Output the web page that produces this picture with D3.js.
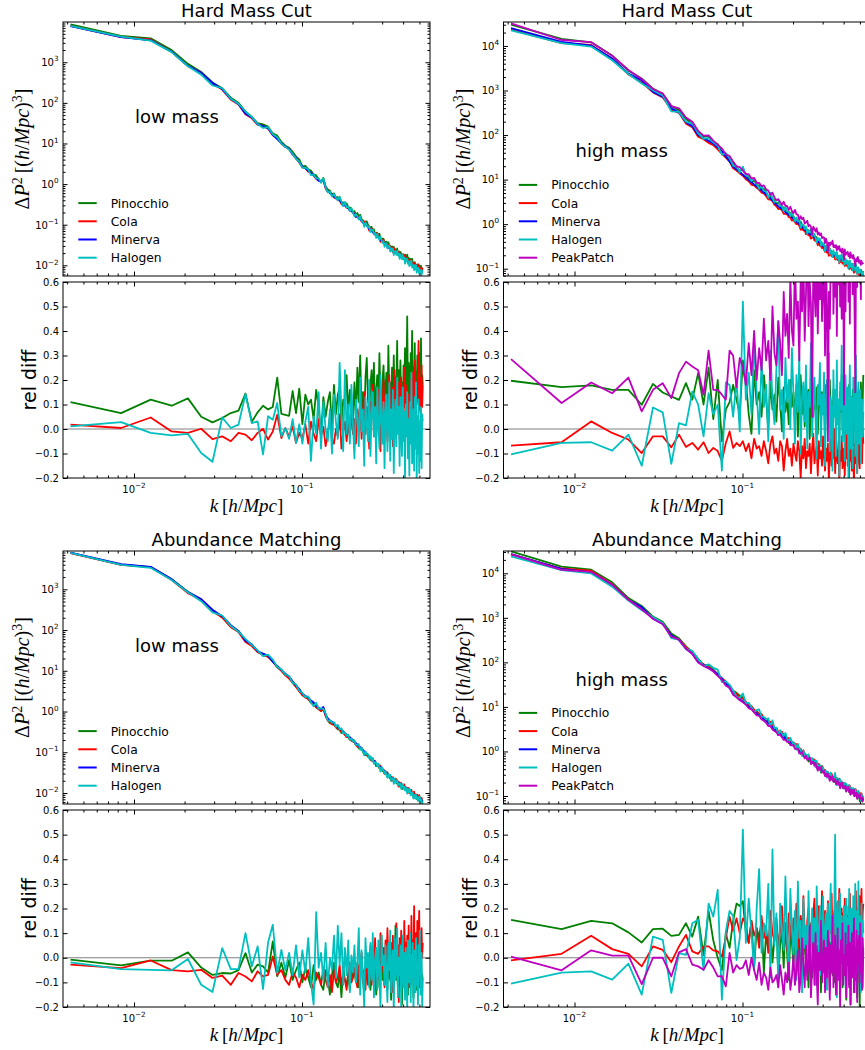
<!DOCTYPE html>
<html>
<head>
<meta charset="utf-8">
<script src="https://cdn.jsdelivr.net/npm/d3@7"></script>
<style>
  body { margin: 0; background: #fff; }
  svg { display: block; }
  text { font-family: "DejaVu Sans", sans-serif; fill: #000; }
</style>
</head>
<body>
<svg id="fig" width="865" height="1050"></svg>
<script>
// Wavenumber bins k [h/Mpc] (multiples of the fundamental mode of the box)
const kValues = [
  0.00419, 0.00838, 0.01257, 0.01676, 0.02094, 0.02513, 0.02932, 0.03351, 0.03770, 0.04189,
  0.04608, 0.05027, 0.05445, 0.05864, 0.06283, 0.06702, 0.07121, 0.07540, 0.07959, 0.08378,
  0.08796, 0.09215, 0.09634, 0.10053, 0.10472, 0.10891, 0.11310, 0.11729, 0.12147, 0.12566,
  0.12985, 0.13404, 0.13823, 0.14242, 0.14661, 0.15080, 0.15499, 0.15917, 0.16336, 0.16755,
  0.17174, 0.17593, 0.18012, 0.18431, 0.18850, 0.19268, 0.19687, 0.20106, 0.20525, 0.20944,
  0.21363, 0.21782, 0.22201, 0.22620, 0.23038, 0.23457, 0.23876, 0.24295, 0.24714, 0.25133,
  0.25552, 0.25971, 0.26389, 0.26808, 0.27227, 0.27646, 0.28065, 0.28484, 0.28903, 0.29322,
  0.29740, 0.30159, 0.30578, 0.30997, 0.31416, 0.31835, 0.32254, 0.32673, 0.33091, 0.33510,
  0.33929, 0.34348, 0.34767, 0.35186, 0.35605, 0.36024, 0.36442, 0.36861, 0.37280, 0.37699,
  0.38118, 0.38537, 0.38956, 0.39375, 0.39793, 0.40212, 0.40631, 0.41050, 0.41469, 0.41888,
  0.42307, 0.42726, 0.43145, 0.43563, 0.43982, 0.44401, 0.44820, 0.45239, 0.45658, 0.46077,
  0.46496, 0.46914, 0.47333, 0.47752, 0.48171, 0.48590, 0.49009, 0.49428, 0.49847, 0.50265,
  0.50684, 0.51103, 0.51522, 0.51941, 0.52360
];

// Minerva (reference) variance, stored as log10 of ΔP² [(h/Mpc)^3]
const minervaHardLow = [
  3.89, 3.62, 3.54, 3.26, 2.91, 2.74, 2.49, 2.34, 2.10, 1.97,
  1.73, 1.64, 1.47, 1.43, 1.38, 1.21, 1.11, 1.01, 0.92, 0.87,
  0.73, 0.65, 0.54, 0.43, 0.39, 0.33, 0.28, 0.22, 0.15, 0.08,
  0.07, 0.10, -0.08, -0.18, -0.22, -0.26, -0.30, -0.35, -0.38, -0.41,
  -0.46, -0.50, -0.53, -0.56, -0.60, -0.64, -0.66, -0.70, -0.74, -0.79,
  -0.81, -0.84, -0.87, -0.90, -0.95, -0.98, -1.00, -1.03, -1.05, -1.11,
  -1.13, -1.15, -1.18, -1.22, -1.24, -1.26, -1.29, -1.31, -1.34, -1.38,
  -1.40, -1.42, -1.45, -1.47, -1.49, -1.51, -1.54, -1.56, -1.58, -1.60,
  -1.61, -1.63, -1.65, -1.66, -1.68, -1.70, -1.71, -1.72, -1.74, -1.75,
  -1.77, -1.78, -1.79, -1.80, -1.81, -1.83, -1.84, -1.86, -1.87, -1.89,
  -1.90, -1.91, -1.92, -1.93, -1.95, -1.96, -1.98, -1.99, -2.01, -2.03,
  -2.04, -2.05, -2.06, -2.07, -2.08, -2.09, -2.10, -2.11, -2.12, -2.13,
  -2.14, -2.15, -2.16, -2.16, -2.17
];
const minervaHardHigh = [
  4.40, 4.09, 4.01, 3.72, 3.38, 3.23, 2.97, 2.86, 2.60, 2.51,
  2.29, 2.20, 2.00, 1.93, 1.87, 1.81, 1.72, 1.64, 1.52, 1.41,
  1.29, 1.23, 1.17, 1.11, 1.05, 0.99, 0.94, 0.89, 0.85, 0.80,
  0.76, 0.71, 0.67, 0.62, 0.58, 0.53, 0.48, 0.44, 0.40, 0.37,
  0.34, 0.31, 0.27, 0.24, 0.21, 0.18, 0.15, 0.12, 0.09, 0.06,
  0.03, 0.00, -0.03, -0.06, -0.09, -0.12, -0.15, -0.18, -0.20, -0.22,
  -0.24, -0.26, -0.28, -0.30, -0.33, -0.36, -0.38, -0.40, -0.43, -0.45,
  -0.47, -0.49, -0.52, -0.54, -0.56, -0.58, -0.60, -0.61, -0.63, -0.64,
  -0.65, -0.66, -0.68, -0.69, -0.71, -0.72, -0.73, -0.74, -0.76, -0.77,
  -0.78, -0.79, -0.80, -0.81, -0.83, -0.84, -0.85, -0.86, -0.87, -0.88,
  -0.89, -0.90, -0.91, -0.92, -0.93, -0.94, -0.95, -0.96, -0.97, -0.98,
  -0.99, -1.00, -1.01, -1.02, -1.03, -1.04, -1.05, -1.07, -1.08, -1.09,
  -1.10, -1.11, -1.12, -1.13, -1.14
];
const minervaAbundLow = [
  3.90, 3.62, 3.55, 3.25, 2.93, 2.76, 2.50, 2.34, 2.12, 1.98,
  1.74, 1.65, 1.48, 1.42, 1.37, 1.22, 1.12, 1.02, 0.93, 0.86,
  0.74, 0.64, 0.55, 0.44, 0.38, 0.34, 0.27, 0.22, 0.14, 0.09,
  0.06, 0.11, -0.07, -0.17, -0.22, -0.25, -0.30, -0.34, -0.38, -0.42,
  -0.45, -0.49, -0.53, -0.57, -0.60, -0.63, -0.67, -0.70, -0.73, -0.78,
  -0.81, -0.85, -0.87, -0.90, -0.94, -0.98, -1.01, -1.03, -1.06, -1.10,
  -1.13, -1.16, -1.18, -1.21, -1.24, -1.27, -1.29, -1.31, -1.34, -1.37,
  -1.40, -1.42, -1.44, -1.47, -1.49, -1.52, -1.54, -1.56, -1.58, -1.60,
  -1.62, -1.63, -1.65, -1.67, -1.68, -1.70, -1.72, -1.73, -1.74, -1.76,
  -1.77, -1.79, -1.80, -1.81, -1.82, -1.84, -1.85, -1.86, -1.88, -1.89,
  -1.91, -1.92, -1.93, -1.95, -1.96, -1.97, -1.99, -2.00, -2.02, -2.03,
  -2.05, -2.06, -2.07, -2.08, -2.09, -2.10, -2.11, -2.12, -2.13, -2.14,
  -2.15, -2.16, -2.17, -2.18, -2.19
];
const minervaAbundHigh = [
  4.43, 4.10, 4.02, 3.74, 3.40, 3.24, 2.98, 2.86, 2.61, 2.50,
  2.30, 2.20, 2.01, 1.94, 1.87, 1.81, 1.73, 1.64, 1.53, 1.42,
  1.30, 1.23, 1.17, 1.12, 1.06, 1.00, 0.95, 0.90, 0.85, 0.81,
  0.77, 0.72, 0.68, 0.63, 0.59, 0.54, 0.50, 0.46, 0.42, 0.39,
  0.36, 0.33, 0.29, 0.26, 0.23, 0.20, 0.17, 0.14, 0.11, 0.08,
  0.05, 0.02, -0.01, -0.04, -0.07, -0.10, -0.12, -0.15, -0.17, -0.19,
  -0.21, -0.23, -0.25, -0.27, -0.30, -0.32, -0.34, -0.36, -0.39, -0.41,
  -0.43, -0.45, -0.47, -0.49, -0.51, -0.53, -0.55, -0.56, -0.58, -0.59,
  -0.60, -0.62, -0.63, -0.64, -0.66, -0.67, -0.68, -0.69, -0.71, -0.72,
  -0.73, -0.74, -0.75, -0.76, -0.78, -0.79, -0.80, -0.81, -0.82, -0.83,
  -0.84, -0.85, -0.86, -0.87, -0.88, -0.89, -0.90, -0.91, -0.92, -0.93,
  -0.94, -0.95, -0.96, -0.97, -0.98, -0.99, -1.00, -1.01, -1.02, -1.03,
  -1.04, -1.05, -1.06, -1.07, -1.08
];

// Relative difference of each code with respect to Minerva
const relHardLowPinocchio = [
  0.11, 0.065, 0.12, 0.095, 0.125, 0.05, 0.027, 0.045, 0.065, 0.075,
  0.145, 0.03, 0.068, 0.095, 0.08, 0.09, 0.21, 0.062, 0.058, 0.054,
  0.155, 0.065, 0.165, 0.02, 0.14, 0.10, 0.12, 0.04, 0.16, 0.09,
  -0.03, 0.13, 0.05, 0.11, 0.15, 0.00, 0.18, 0.06, 0.14, 0.17,
  0.02, 0.12, 0.09, 0.22, 0.07, 0.16, 0.10, 0.03, 0.19, 0.05,
  0.25, 0.11, 0.30, 0.08, 0.15, 0.02, 0.21, 0.29, 0.12, 0.06,
  0.18, 0.24, 0.10, 0.27, -0.01, 0.16, 0.22, 0.09, 0.31, 0.13,
  0.05, 0.20, 0.26, 0.11, 0.17, 0.23, 0.07, 0.34, 0.14, 0.19,
  0.02, 0.25, 0.12, 0.30, 0.09, 0.21, 0.16, 0.36, 0.05, 0.24,
  0.13, 0.28, 0.10, 0.19, -0.03, 0.26, 0.15, 0.33, 0.08, 0.22,
  0.46, 0.12, 0.27, 0.18, 0.06, 0.31, 0.20, 0.40, 0.09, 0.25,
  0.14, 0.35, 0.02, 0.23, 0.17, 0.30, 0.11, 0.27, 0.08, 0.31,
  0.19, 0.37, 0.13, 0.22, 0.18
];
const relHardLowCola = [
  0.018, 0.004, 0.047, -0.01, -0.016, 0.001, -0.041, -0.03, -0.05, -0.016,
  -0.023, -0.046, -0.016, 0.001, -0.043, -0.01, 0.058, -0.037, 0.004, -0.03,
  0.01, -0.057, -0.015, -0.04, 0.02, -0.06, 0.03, -0.02, -0.05, 0.04,
  -0.03, 0.01, -0.07, -0.02, 0.05, -0.04, -0.06, 0.00, -0.03, 0.06,
  -0.08, -0.01, 0.03, -0.05, 0.02, -0.03, 0.07, -0.02, 0.04, -0.06,
  0.08, 0.01, 0.12, -0.04, 0.06, 0.15, -0.02, 0.09, 0.03, -0.08,
  0.11, 0.05, 0.18, -0.03, 0.07, 0.13, 0.00, 0.16, 0.04, -0.09,
  0.10, 0.06, 0.20, 0.02, 0.12, 0.08, -0.05, 0.14, 0.22, 0.03,
  0.11, 0.17, -0.07, 0.09, 0.24, 0.05, 0.15, 0.01, 0.19, 0.10,
  -0.04, 0.13, 0.21, 0.06, 0.16, 0.02, 0.25, 0.09, 0.18, 0.12,
  0.07, 0.01, 0.14, 0.03, 0.20, 0.11, -0.02, 0.17, 0.23, 0.08,
  0.13, 0.28, 0.05, 0.19, 0.10, 0.15, 0.24, 0.36, 0.12, 0.21,
  0.07, 0.16, 0.26, 0.09, 0.18
];
const relHardLowHalogen = [
  0.011, 0.028, -0.016, -0.026, -0.02, -0.098, -0.134, 0.047, 0.004, 0.018,
  0.142, 0.024, 0.031, -0.104, 0.052, 0.038, 0.106, -0.03, 0.004, -0.04,
  0.04, -0.057, 0.02, -0.06, 0.03, 0.09, -0.13, 0.05, -0.02, 0.15,
  -0.08, 0.11, 0.00, -0.05, 0.08, -0.10, 0.14, 0.03, -0.04, 0.27,
  0.06, -0.09, 0.24, -0.02, 0.10, -0.06, 0.18, 0.02, -0.12, 0.12,
  0.04, -0.07, 0.21, -0.01, 0.08, -0.15, 0.13, 0.02, -0.05, 0.20,
  -0.11, 0.06, 0.15, -0.03, 0.09, -0.14, 0.17, 0.01, -0.08, 0.22,
  0.04, -0.06, 0.11, -0.16, 0.07, 0.14, -0.09, 0.03, 0.19, -0.13,
  0.08, -0.04, 0.16, -0.18, 0.05, 0.12, -0.07, 0.21, -0.02, 0.09,
  -0.15, 0.13, 0.00, -0.11, 0.17, -0.05, 0.07, -0.20, 0.10, -0.03,
  0.15, -0.12, 0.04, -0.19, 0.11, -0.06, 0.23, -0.14, 0.02, 0.08,
  -0.17, 0.13, -0.08, 0.19, -0.21, 0.05, -0.10, 0.12, -0.18, 0.03,
  -0.13, 0.09, -0.16, 0.06, 0.03
];

const relHardHighPinocchio = [
  0.197, 0.171, 0.178, 0.16, 0.16, 0.099, 0.184, 0.149, 0.133, 0.119,
  0.187, 0.12, 0.228, 0.10, 0.25, 0.04, 0.20, -0.05, 0.08, 0.11,
  0.18, 0.12, 0.06, 0.28, 0.20, 0.06, -0.02, 0.24, 0.10, 0.15,
  0.05, 0.22, 0.12, 0.00, 0.19, 0.08, 0.14, 0.03, 0.21, 0.11,
  -0.01, 0.17, 0.07, 0.13, 0.02, 0.20, 0.09, 0.15, 0.04, 0.18,
  -0.03, 0.12, 0.22, 0.06, 0.14, 0.01, 0.19, 0.09, 0.16, -0.04,
  0.11, 0.23, 0.05, 0.13, 0.08, 0.17, -0.02, 0.10, 0.21, 0.03,
  0.15, 0.07, 0.12, -0.05, 0.18, 0.09, 0.14, 0.02, 0.20, 0.06,
  0.11, -0.06, 0.16, 0.08, 0.13, 0.01, 0.19, 0.04, 0.10, -0.03,
  0.15, 0.07, 0.22, 0.00, 0.12, 0.05, 0.17, -0.08, 0.09, 0.14,
  0.03, 0.11, 0.18, -0.04, 0.08, 0.13, 0.02, 0.16, -0.07, 0.10,
  0.06, 0.21, -0.02, 0.12, 0.04, 0.15, -0.10, 0.09, 0.14, 0.01,
  0.19, 0.07, -0.05, 0.11, 0.22
];
const relHardHighCola = [
  -0.068, -0.054, 0.031, -0.016, -0.043, -0.098, -0.03, -0.03, -0.075, -0.023,
  -0.073, -0.057, -0.084, -0.054, -0.098, -0.077, -0.09, -0.13, -0.057, -0.01,
  -0.077, -0.057, -0.07, -0.05, -0.09, -0.06, -0.12, -0.04, -0.08, -0.07,
  -0.11, -0.05, -0.09, -0.14, -0.06, -0.03, -0.10, -0.08, -0.13, -0.05,
  -0.07, -0.17, -0.09, -0.04, -0.11, -0.08, -0.15, -0.06, -0.10, -0.13,
  -0.05, -0.09, -0.20, -0.07, -0.12, -0.04, -0.16, -0.09, -0.11, -0.06,
  -0.18, -0.08, -0.02, -0.14, -0.10, -0.07, -0.19, -0.05, -0.12, -0.09,
  -0.15, -0.03, -0.11, -0.17, -0.08, -0.13, -0.06, -0.21, -0.10, -0.04,
  -0.15, -0.09, -0.12, 0.00, -0.18, -0.07, -0.11, -0.14, -0.05, -0.22,
  -0.09, -0.13, -0.03, -0.16, -0.08, -0.11, -0.19, -0.06, -0.12, -0.02,
  -0.15, -0.09, -0.20, -0.05, -0.13, 0.02, -0.17, -0.08, -0.11, -0.23,
  -0.06, -0.14, -0.01, -0.10, -0.18, -0.07, 0.03, -0.12, -0.16, -0.04,
  0.05, -0.09, -0.14, 0.00, -0.06
];
const relHardHighHalogen = [
  -0.104, -0.057, -0.054, -0.088, -0.023, -0.15, 0.088, 0.068, -0.142, 0.024,
  0.015, 0.153, 0.10, -0.03, 0.146, 0.06, 0.10, -0.17, 0.19, 0.18,
  0.05, 0.20, -0.01, 0.52, 0.12, 0.23, 0.06, 0.35, 0.15, -0.02,
  0.28, 0.09, 0.18, -0.05, 0.32, 0.12, 0.02, 0.25, 0.44, 0.08,
  0.16, -0.04, 0.29, 0.11, 0.20, 0.00, 0.33, 0.14, -0.06, 0.22,
  0.07, 0.30, -0.10, 0.13, 0.19, 0.03, 0.26, -0.08, 0.15, 0.09,
  0.35, -0.03, 0.12, 0.21, 0.04, -0.12, 0.18, 0.10, 0.27, -0.07,
  0.14, 0.06, 0.23, -0.15, 0.11, 0.20, 0.01, 0.31, -0.09, 0.13,
  0.07, -0.17, 0.24, 0.05, 0.16, -0.11, 0.28, 0.02, 0.12, -0.19,
  0.19, 0.08, 0.34, -0.05, 0.15, 0.04, -0.13, 0.22, 0.10, -0.02,
  0.17, -0.20, 0.09, 0.26, -0.08, 0.13, 0.03, -0.16, 0.21, 0.06,
  0.14, -0.11, 0.30, 0.01, -0.18, 0.11, 0.19, -0.06, 0.08, 0.16,
  -0.14, 0.05, 0.12, -0.03, 0.07
];
const relHardHighPeakPatch = [
  0.285, 0.106, 0.19, 0.146, 0.21, 0.072, 0.16, 0.187, 0.126, 0.228,
  0.275, 0.255, 0.24, 0.14, 0.32, 0.16, 0.16, 0.14, 0.12, 0.32,
  0.30, 0.17, 0.29, 0.25, 0.18, 0.35, 0.22, 0.40, 0.20, 0.33,
  0.24, 0.45, 0.28, 0.36, 0.20, 0.50, 0.31, 0.26, 0.44, 0.35,
  0.22, 0.56, 0.38, 0.47, 0.29, 0.62, 0.40, 0.34, 0.70, 0.45,
  0.52, 0.28, 0.61, 0.48, 0.72, 0.36, 0.55, 0.80, 0.42, 0.60,
  0.51, 0.05, 0.68, 0.57, 0.46, 0.85, 0.39, 0.63, 0.53, 0.75,
  0.44, 0.58, 0.66, 0.30, 0.71, 0.49, -0.05, 0.56, 0.41, 0.69,
  0.60, 0.95, 0.47, 0.64, 0.54, 0.78, 0.38, 0.73, 0.59, 0.88,
  0.50, 0.67, 0.45, 0.83, 0.62, 0.10, 0.91, 0.48, 0.70, 0.65,
  0.86, 0.52, 0.77, 0.43, 0.97, 0.61, 0.74, 0.55, 0.90, 0.68,
  0.46, 0.15, 0.63, 0.79, 0.58, 1.02, 0.71, 0.60, 0.87, 0.66,
  0.53, 0.93, 0.72, 0.80, 0.75
];

const relAbundLowPinocchio = [
  -0.008, -0.031, -0.012, -0.012, 0.022, -0.04, -0.07, -0.062, -0.064, -0.05,
  0.019, -0.06, -0.028, -0.035, -0.06, 0.066, -0.075, -0.02, -0.08, -0.01,
  -0.09, -0.05, -0.02, -0.10, -0.04, -0.08, -0.12, -0.03, -0.09, -0.06,
  -0.11, -0.13, -0.05, -0.08, -0.15, -0.07, -0.02, -0.10, -0.12, -0.06,
  -0.16, -0.04, -0.09, -0.11, -0.07, -0.13, -0.03, -0.08, -0.05, -0.10,
  -0.02, -0.12, -0.07, 0.01, -0.09, -0.14, -0.04, -0.08, -0.11, -0.03,
  -0.13, -0.06, 0.04, -0.10, -0.05, -0.15, -0.08, -0.01, -0.12, -0.06,
  0.09, -0.09, -0.04, -0.11, -0.07, -0.02, -0.13, 0.06, -0.08, -0.05,
  -0.17, -0.03, 0.02, -0.10, -0.06, 0.13, -0.09, -0.04, -0.14, 0.01,
  -0.07, -0.11, 0.05, -0.19, -0.03, -0.08, 0.08, -0.12, -0.05, 0.00,
  -0.09, -0.15, 0.03, -0.06, 0.10, -0.11, -0.02, -0.07, 0.05, -0.16,
  -0.04, 0.07, -0.10, -0.01, -0.13, 0.04, -0.08, -0.05, 0.11, -0.12,
  -0.03, 0.02, -0.14, -0.07, -0.09
];
const relAbundLowCola = [
  -0.028, -0.042, -0.011, -0.05, -0.055, -0.049, -0.082, -0.073, -0.11, -0.062,
  -0.076, -0.096, -0.055, -0.076, -0.07, 0.005, -0.069, -0.05, -0.09, -0.11,
  -0.06, -0.08, -0.12, -0.07, -0.09, -0.05, -0.10, -0.13, -0.06, -0.08,
  -0.11, -0.04, -0.09, -0.12, -0.07, -0.14, -0.05, -0.10, -0.08, -0.03,
  -0.11, -0.07, -0.09, -0.13, -0.06, -0.02, -0.10, -0.08, -0.04, -0.09,
  -0.12, -0.03, -0.07, 0.02, -0.10, -0.05, -0.13, -0.01, -0.08, -0.06,
  0.05, -0.11, -0.03, -0.07, 0.08, -0.10, -0.04, 0.01, -0.09, 0.10,
  -0.06, -0.02, 0.04, -0.12, 0.07, -0.05, 0.12, -0.03, 0.02, -0.09,
  0.06, -0.14, 0.09, -0.01, 0.03, -0.07, 0.14, -0.04, 0.05, -0.18,
  0.08, -0.02, 0.11, -0.06, 0.01, -0.10, 0.15, -0.03, 0.06, -0.08,
  0.09, -0.05, 0.13, -0.12, 0.04, -0.02, 0.17, -0.08, 0.07, -0.04,
  0.21, -0.10, 0.03, 0.10, -0.06, 0.15, -0.15, 0.05, 0.19, -0.03,
  0.08, -0.09, 0.12, 0.00, 0.06
];
const relAbundLowHalogen = [
  -0.019, -0.046, -0.049, -0.051, -0.005, -0.11, -0.139, 0.039, -0.046, -0.046,
  0.10, -0.035, 0.046, -0.127, 0.062, 0.134, -0.062, 0.032, -0.05, 0.02,
  -0.07, 0.05, -0.08, 0.03, -0.06, 0.08, -0.10, -0.19, 0.185, -0.04,
  0.02, -0.09, 0.06, -0.12, 0.00, -0.05, 0.09, -0.08, 0.13, -0.03,
  0.10, -0.11, 0.04, -0.07, 0.07, -0.14, 0.01, -0.06, 0.05, -0.10,
  -0.02, 0.12, -0.15, 0.03, -0.07, -0.20, 0.08, -0.04, 0.02, -0.12,
  0.06, -0.09, 0.10, -0.16, -0.01, 0.04, -0.13, 0.07, -0.06, -0.21,
  0.09, -0.03, 0.01, -0.11, 0.05, -0.08, -0.18, 0.06, -0.05, 0.11,
  -0.14, -0.02, 0.03, -0.22, 0.08, -0.09, -0.04, 0.12, -0.16, 0.00,
  -0.07, 0.05, -0.20, -0.01, 0.09, -0.12, 0.02, -0.17, 0.04, -0.06,
  -0.21, 0.07, -0.10, -0.03, 0.10, -0.18, 0.01, -0.08, 0.06, -0.22,
  -0.05, 0.03, -0.14, 0.08, -0.11, -0.02, -0.19, 0.05, -0.07, 0.11,
  -0.15, -0.04, 0.02, -0.20, -0.09
];

const relAbundHighPinocchio = [
  0.154, 0.116, 0.15, 0.14, 0.103, 0.062, 0.116, 0.118, 0.089, 0.093,
  0.14, 0.086, 0.167, 0.01, 0.19, 0.07, 0.00, -0.05, 0.10, 0.04,
  0.15, 0.22, 0.21, 0.23, 0.10, 0.06, 0.15, -0.04, 0.12, 0.08,
  0.15, -0.06, 0.10, 0.03, 0.13, -0.02, 0.08, 0.16, -0.08, 0.05,
  0.11, -0.04, 0.14, 0.02, -0.09, 0.09, 0.06, -0.03, 0.12, -0.07,
  0.04, 0.10, -0.10, 0.07, 0.01, 0.13, -0.05, 0.08, -0.12, 0.03,
  0.11, -0.08, 0.06, 0.00, 0.14, -0.11, 0.05, -0.03, 0.09, -0.14,
  0.02, 0.07, -0.06, 0.12, -0.09, 0.04, -0.02, 0.10, -0.13, 0.06,
  0.01, -0.07, 0.13, -0.10, 0.03, 0.08, -0.15, 0.05, -0.04, 0.11,
  -0.08, 0.02, 0.07, -0.12, 0.09, -0.05, 0.00, 0.15, -0.17, 0.04,
  -0.03, 0.10, -0.11, 0.06, -0.19, 0.02, 0.08, -0.06, 0.12, -0.14,
  0.03, -0.09, 0.07, 0.01, -0.16, 0.09, -0.04, 0.05, -0.20, 0.11,
  -0.07, 0.02, 0.08, -0.12, 0.04
];
const relAbundHighCola = [
  -0.011, 0.016, 0.089, 0.035, 0.016, -0.035, 0.046, 0.032, -0.018, 0.046,
  0.093, 0.026, 0.016, 0.046, 0.046, 0.03, 0.026, 0.005, 0.08, 0.167,
  0.11, 0.16, 0.10, 0.16, 0.14, 0.06, 0.15, 0.09, 0.12, 0.04,
  0.17, 0.08, 0.13, 0.02, 0.19, 0.10, 0.07, 0.15, 0.05, 0.11,
  0.21, 0.08, 0.14, 0.03, 0.18, 0.12, 0.06, 0.16, 0.09, 0.22,
  0.04, 0.13, 0.17, 0.07, 0.25, 0.11, 0.01, 0.15, 0.20, 0.08,
  0.14, 0.03, 0.18, 0.24, 0.10, 0.06, 0.16, 0.21, 0.09, 0.12,
  0.27, 0.05, 0.15, 0.19, 0.08, 0.13, 0.23, 0.02, 0.17, 0.10,
  0.26, 0.07, 0.14, 0.19, 0.04, 0.16, 0.22, 0.09, 0.12, 0.28,
  0.06, 0.15, 0.20, 0.01, 0.18, 0.11, 0.24, 0.08, 0.13, 0.17,
  0.05, 0.21, 0.12, 0.26, 0.09, 0.16, 0.03, 0.19, 0.14, 0.23,
  0.07, 0.11, 0.27, 0.10, 0.17, 0.04, 0.20, 0.13, 0.25, 0.08,
  0.15, 0.28, 0.06, 0.18, 0.22
];
const relAbundHighHalogen = [
  -0.105, -0.06, -0.055, -0.089, -0.024, -0.15, 0.086, 0.073, -0.143, 0.019,
  0.012, 0.14, 0.154, -0.05, 0.22, 0.167, 0.276, -0.17, 0.107, 0.19,
  0.17, -0.01, 0.08, 0.52, 0.06, 0.24, 0.10, -0.05, 0.20, 0.36,
  0.02, 0.14, 0.09, 0.30, -0.08, 0.44, 0.05, 0.18, -0.12, 0.22,
  0.11, 0.03, 0.33, 0.07, -0.04, 0.28, 0.12, 0.01, 0.19, -0.09,
  0.31, 0.08, 0.15, -0.14, 0.24, 0.04, 0.13, -0.06, 0.27, 0.10,
  -0.02, 0.20, 0.06, 0.16, -0.11, 0.29, 0.09, 0.02, 0.21, -0.07,
  0.14, 0.25, -0.03, 0.11, 0.18, -0.13, 0.22, 0.07, 0.15, 0.30,
  -0.05, 0.12, 0.04, 0.19, 0.50, 0.08, -0.16, 0.23, 0.13, 0.01,
  0.26, -0.09, 0.17, 0.10, -0.02, 0.21, 0.14, -0.12, 0.24, 0.06,
  0.16, -0.04, 0.28, 0.09, -0.18, 0.20, 0.11, 0.03, 0.25, -0.08,
  0.14, 0.30, 0.05, -0.11, 0.19, 0.12, 0.31, -0.06, 0.17, 0.08,
  -0.14, 0.22, 0.04, 0.15, 0.10
];
const relAbundHighPeakPatch = [
  0.005, -0.051, 0.03, 0.009, 0.009, -0.107, 0.0, 0.0, -0.076, 0.022,
  0.035, -0.028, -0.035, -0.049, -0.01, -0.04, -0.076, -0.075, -0.116, 0.02,
  -0.06, -0.03, -0.045, -0.04, -0.01, -0.07, 0.00, -0.05, -0.09, -0.02,
  -0.11, -0.06, -0.08, -0.13, -0.04, -0.10, -0.09, -0.07, -0.12, -0.03,
  -0.09, -0.15, -0.06, -0.10, -0.02, -0.13, -0.08, 0.01, -0.11, -0.05,
  0.03, -0.14, -0.08, 0.08, -0.03, -0.12, 0.05, -0.09, -0.01, 0.13,
  -0.16, -0.04, 0.06, -0.11, 0.10, -0.07, -0.19, 0.02, -0.05, 0.15,
  -0.10, -0.02, 0.07, -0.14, 0.04, -0.08, 0.11, -0.03, -0.17, 0.05,
  -0.06, 0.17, -0.12, 0.00, 0.09, -0.15, -0.04, 0.12, -0.09, 0.03,
  -0.20, 0.07, -0.02, 0.14, -0.11, 0.01, -0.07, 0.10, -0.16, 0.05,
  -0.03, 0.13, -0.12, 0.06, -0.19, 0.02, 0.10, -0.08, -0.01, 0.16,
  -0.14, 0.04, -0.05, 0.11, -0.18, 0.07, -0.02, 0.09, -0.10, 0.14,
  -0.06, 0.03, -0.13, 0.08, 0.01
];

// Axis tick values
const relTicks = [-0.2, -0.1, 0.0, 0.1, 0.2, 0.3, 0.4, 0.5, 0.6];
const kMajorTicks = [0.01, 0.1];

const colors = {
  Pinocchio: "#008000", Cola: "#ff0000", Minerva: "#0000ff",
  Halogen: "#00bfbf", PeakPatch: "#bf00bf"
};

const panels = [
  { title: "Hard Mass Cut", mass: "low mass", col: 0, row: 0, yLog: [-2.263, 3.991],
    ref: minervaHardLow,
    rel: { Pinocchio: relHardLowPinocchio, Cola: relHardLowCola, Halogen: relHardLowHalogen } },
  { title: "Hard Mass Cut", mass: "high mass", col: 1, row: 0, yLog: [-1.164, 4.538],
    ref: minervaHardHigh,
    rel: { Pinocchio: relHardHighPinocchio, Cola: relHardHighCola, Halogen: relHardHighHalogen, PeakPatch: relHardHighPeakPatch } },
  { title: "Abundance Matching", mass: "low mass", col: 0, row: 1, yLog: [-2.27, 3.94],
    ref: minervaAbundLow,
    rel: { Pinocchio: relAbundLowPinocchio, Cola: relAbundLowCola, Halogen: relAbundLowHalogen } },
  { title: "Abundance Matching", mass: "high mass", col: 1, row: 1, yLog: [-1.18, 4.50],
    ref: minervaAbundHigh,
    rel: { Pinocchio: relAbundHighPinocchio, Cola: relAbundHighCola, Halogen: relAbundHighHalogen, PeakPatch: relAbundHighPeakPatch } }
];

panels.forEach(p => {
  if (p.ref.length !== kValues.length) throw new Error(p.title + " " + p.mass + " reference length " + p.ref.length);
  Object.entries(p.rel).forEach(([n, a]) => {
    if (a.length !== kValues.length) throw new Error(p.title + " " + p.mass + " " + n + " length " + a.length);
  });
});

// ---------------------------------------------------------------- layout
const svg = d3.select("#fig");
const W = 367;
const colX = [63, 503.5];
const rows = [
  { mainTop: 22, mainBottom: 276, relTop: 282, relBottom: 478 },
  { mainTop: 551, mainBottom: 804, relTop: 810, relBottom: 1007 }
];
const kDomain = [Math.pow(10, -2.4226), Math.pow(10, -0.238)];
const MAJOR = 4.5, MINOR = 2.5;
const LINE_W = 1.8;
const serif = "'Liberation Serif', 'DejaVu Serif', serif";

function logMinors(lo, hi) {
  const out = [];
  for (let d = Math.floor(lo) - 1; d <= Math.ceil(hi); d++) {
    for (let m = 2; m <= 9; m++) {
      const v = m * Math.pow(10, d);
      if (Math.log10(v) >= lo && Math.log10(v) <= hi) out.push(v);
    }
  }
  return out;
}
function logMajors(lo, hi) {
  const out = [];
  for (let d = Math.ceil(lo); d <= Math.floor(hi); d++) out.push(Math.pow(10, d));
  return out;
}

// inward tick marks drawn with d3 axes on all four sides of a box
function boxTicks(g, xs, ys, box, xVals, yVals, size) {
  const mk = (fn, scale, vals, tr) => {
    const a = g.append("g").attr("transform", tr)
      .call(fn(scale).tickValues(vals).tickSizeInner(-size).tickSizeOuter(0).tickFormat(""));
    a.select(".domain").remove();
    a.selectAll(".tick line").attr("stroke", "#000").attr("stroke-width", 1);
    a.selectAll(".tick text").remove();
  };
  if (xVals) {
    mk(d3.axisBottom, xs, xVals, `translate(0,${box.bottom})`);
    mk(d3.axisTop, xs, xVals, `translate(0,${box.top})`);
  }
  if (yVals) {
    mk(d3.axisLeft, ys, yVals, `translate(${box.left},0)`);
    mk(d3.axisRight, ys, yVals, `translate(${box.right},0)`);
  }
}

function powerLabel(sel, exp) {
  sel.append("tspan").text("10");
  sel.append("tspan").attr("dy", -4.6).attr("font-size", 7.2)
    .text(exp < 0 ? "\u2212" + (-exp) : String(exp));
}

const xMinors = logMinors(-2.4226, -0.238);

panels.forEach((p, pi) => {
  const x0 = colX[p.col], r = rows[p.row];
  const x = d3.scaleLog().domain(kDomain).range([x0, x0 + W]);
  const yM = d3.scaleLog().domain([Math.pow(10, p.yLog[0]), Math.pow(10, p.yLog[1])])
    .range([r.mainBottom, r.mainTop]);
  const yR = d3.scaleLinear().domain([-0.2, 0.6]).range([r.relBottom, r.relTop]);

  const mainBox = { left: x0, right: x0 + W, top: r.mainTop, bottom: r.mainBottom };
  const relBox = { left: x0, right: x0 + W, top: r.relTop, bottom: r.relBottom };

  const defs = svg.append("defs");
  defs.append("clipPath").attr("id", `clipM${pi}`).append("rect")
    .attr("x", x0).attr("y", r.mainTop).attr("width", W).attr("height", r.mainBottom - r.mainTop);
  defs.append("clipPath").attr("id", `clipR${pi}`).append("rect")
    .attr("x", x0).attr("y", r.relTop).attr("width", W).attr("height", r.relBottom - r.relTop);

  // ---- upper panel: variance of the power spectrum
  const names = ["Pinocchio", "Cola", "Minerva", "Halogen"];
  if (p.rel.PeakPatch) names.push("PeakPatch");

  const seriesMain = names.map(n => ({
    name: n,
    values: kValues.map((k, i) => ({
      k,
      v: Math.pow(10, p.ref[i]) * (n === "Minerva" ? 1 : 1 + p.rel[n][i])
    }))
  }));

  const lineM = d3.line().x(d => x(d.k)).y(d => yM(d.v));
  const gM = svg.append("g").attr("clip-path", `url(#clipM${pi})`);
  gM.selectAll("path").data(seriesMain).join("path")
    .attr("d", d => lineM(d.values))
    .attr("fill", "none")
    .attr("stroke", d => colors[d.name])
    .attr("stroke-width", LINE_W)
    .attr("stroke-linejoin", "round");

  const lo = p.yLog[0], hi = p.yLog[1];
  const tg = svg.append("g");
  boxTicks(tg, x, yM, mainBox, kMajorTicks, logMajors(lo, hi), MAJOR);
  boxTicks(tg, x, yM, mainBox, xMinors, logMinors(lo, hi), MINOR);

  svg.append("rect").attr("x", x0).attr("y", r.mainTop).attr("width", W)
    .attr("height", r.mainBottom - r.mainTop)
    .attr("fill", "none").attr("stroke", "#000").attr("stroke-width", 1);

  logMajors(lo, hi).forEach(v => {
    const t = svg.append("text").attr("x", x0 - 4.5).attr("y", yM(v) + 3.8)
      .attr("text-anchor", "end").attr("font-size", 10);
    powerLabel(t, Math.round(Math.log10(v)));
  });

  // title and sample label
  svg.append("text").attr("x", x0 + W / 2).attr("y", r.mainTop - 5)
    .attr("text-anchor", "middle").attr("font-size", 18).text(p.title);
  svg.append("text").attr("x", x0 + 72)
    .attr("y", r.mainTop + (p.mass === "low mass" ? 100.5 : 134.6))
    .attr("font-size", 18).text(p.mass);

  // legend
  names.forEach((n, i) => {
    const cy = r.mainBottom - 18.3 - (names.length - 1 - i) * 18.2;
    svg.append("line").attr("x1", x0 + 15.3).attr("x2", x0 + 33.7)
      .attr("y1", cy).attr("y2", cy)
      .attr("stroke", colors[n]).attr("stroke-width", 2);
    svg.append("text").attr("x", x0 + 47.7).attr("y", cy + 4.4)
      .attr("font-size", 12.3).text(n);
  });

  // y label of the upper panel
  const yl = svg.append("text")
    .attr("transform", `translate(${x0 - 34},${(r.mainTop + r.mainBottom) / 2}) rotate(-90)`)
    .attr("text-anchor", "middle").attr("font-size", 20)
    .style("font-family", serif);
  yl.append("tspan").text("\u0394");
  yl.append("tspan").attr("font-style", "italic").text("P");
  yl.append("tspan").attr("dy", -7).attr("font-size", 14).text("2");
  yl.append("tspan").attr("dy", 7).text("\u2009[(");
  yl.append("tspan").attr("font-style", "italic").text("h");
  yl.append("tspan").text("/");
  yl.append("tspan").attr("font-style", "italic").text("Mpc");
  yl.append("tspan").text(")");
  yl.append("tspan").attr("dy", -7).attr("font-size", 14).text("3");
  yl.append("tspan").attr("dy", 7).text("]");

  // ---- lower panel: relative difference to Minerva
  svg.append("line").attr("x1", x0).attr("x2", x0 + W)
    .attr("y1", yR(0)).attr("y2", yR(0))
    .attr("stroke", "#808080").attr("stroke-width", 1);

  const relNames = names.filter(n => n !== "Minerva");
  const lineR = d3.line().x(d => x(d.k)).y(d => yR(d.v));
  const gR = svg.append("g").attr("clip-path", `url(#clipR${pi})`);
  gR.selectAll("path").data(relNames).join("path")
    .attr("d", n => lineR(kValues.map((k, i) => ({ k, v: p.rel[n][i] }))))
    .attr("fill", "none")
    .attr("stroke", n => colors[n])
    .attr("stroke-width", LINE_W)
    .attr("stroke-linejoin", "round");

  const tg2 = svg.append("g");
  boxTicks(tg2, x, yR, relBox, kMajorTicks, relTicks, MAJOR);
  boxTicks(tg2, x, yR, relBox, xMinors, null, MINOR);

  svg.append("rect").attr("x", x0).attr("y", r.relTop).attr("width", W)
    .attr("height", r.relBottom - r.relTop)
    .attr("fill", "none").attr("stroke", "#000").attr("stroke-width", 1);

  relTicks.forEach(v => {
    svg.append("text").attr("x", x0 - 4).attr("y", yR(v) + 3.6)
      .attr("text-anchor", "end").attr("font-size", 10)
      .text(v < 0 ? "\u2212" + Math.abs(v).toFixed(1) : v.toFixed(1));
  });
  kMajorTicks.forEach(v => {
    const t = svg.append("text").attr("x", x(v)).attr("y", r.relBottom + 14.5)
      .attr("text-anchor", "middle").attr("font-size", 10);
    powerLabel(t, Math.round(Math.log10(v)));
  });

  svg.append("text")
    .attr("transform", `translate(${x0 - 27},${(r.relTop + r.relBottom) / 2}) rotate(-90)`)
    .attr("text-anchor", "middle").attr("font-size", 19).text("rel diff");

  const xl = svg.append("text").attr("x", x0 + W / 2).attr("y", r.relBottom + 33.5)
    .attr("text-anchor", "middle").attr("font-size", 19).style("font-family", serif);
  xl.append("tspan").attr("font-style", "italic").text("k");
  xl.append("tspan").text("\u2009[");
  xl.append("tspan").attr("font-style", "italic").text("h");
  xl.append("tspan").text("/");
  xl.append("tspan").attr("font-style", "italic").text("Mpc");
  xl.append("tspan").text("]");
});
</script>
</body>
</html>
